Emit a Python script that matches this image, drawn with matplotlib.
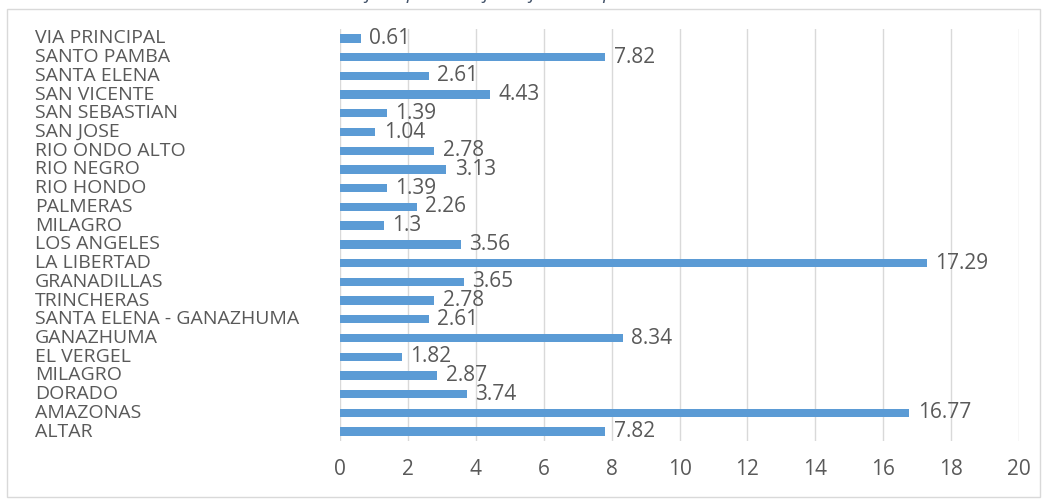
import matplotlib
matplotlib.use("Agg")
import matplotlib.pyplot as plt
import matplotlib.transforms as mtransforms
from matplotlib.patches import Rectangle
import numpy as np

# Communities listed top to bottom, as in the chart
communities = [
    "VIA PRINCIPAL", "SANTO PAMBA", "SANTA ELENA", "SAN VICENTE", "SAN SEBASTIAN",
    "SAN JOSE", "RIO ONDO ALTO", "RIO NEGRO", "RIO HONDO", "PALMERAS", "MILAGRO",
    "LOS ANGELES", "LA LIBERTAD", "GRANADILLAS", "TRINCHERAS",
    "SANTA ELENA - GANAZHUMA", "GANAZHUMA", "EL VERGEL", "MILAGRO", "DORADO",
    "AMAZONAS", "ALTAR",
]
percentages = [
    0.61, 7.82, 2.61, 4.43, 1.39, 1.04, 2.78, 3.13, 1.39, 2.26, 1.3,
    3.56, 17.29, 3.65, 2.78, 2.61, 8.34, 1.82, 2.87, 3.74, 16.77, 7.82,
]
value_labels = ["0.61", "7.82", "2.61", "4.43", "1.39", "1.04", "2.78", "3.13", "1.39",
                "2.26", "1.3", "3.56", "17.29", "3.65", "2.78", "2.61", "8.34", "1.82",
                "2.87", "3.74", "16.77", "7.82"]
x_ticks = [0, 2, 4, 6, 8, 10, 12, 14, 16, 18, 20]
title = "Gráfico: porcentaje de familias por comunidad"

plt.rcParams["font.family"] = ["Open Sans", "DejaVu Sans"]
text_color = "#595959"
bar_color = "#5B9BD5"

W, H = 1046, 499
fig = plt.figure(figsize=(W / 100, H / 100), dpi=100)
ax = fig.add_axes([340 / W, 1 - 441 / H, (1019 - 340) / W, (441 - 29) / H])

ypos = np.arange(len(communities))[::-1]
ax.barh(ypos, percentages, height=0.45, color=bar_color, zorder=3)
for y, v, lab in zip(ypos, percentages, value_labels):
    ax.annotate(lab, (v, y), xytext=(6, 0), textcoords="offset points",
                va="center", ha="left", fontsize=15, color=text_color)

ax.set_xlim(0, 20)
ax.set_ylim(-0.5, len(communities) - 0.5)
ax.set_xticks(x_ticks)
ax.set_xticklabels([str(t) for t in x_ticks], fontsize=15, color=text_color)
ax.tick_params(axis="x", length=0, pad=13)
ax.set_yticks([])
ax.xaxis.grid(True, color="#D9D9D9", linewidth=1, zorder=0)
for s in ax.spines.values():
    s.set_visible(False)

# category labels left aligned at the chart's left edge
trans = mtransforms.blended_transform_factory(fig.transFigure, ax.transData)
for y, name in zip(ypos, communities):
    ax.text(35 / W, y, name, transform=trans, ha="left", va="center",
            fontsize=14, color=text_color, clip_on=False)

# chart frame
fig.patches.append(Rectangle((7 / W, 1 - 497 / H), (1040 - 7) / W, (497 - 9) / H,
                             transform=fig.transFigure, fill=False,
                             edgecolor="#D9D9D9", linewidth=1))

# title, mostly cut off at the top of the picture
fig.text(535 / W, 1 + 1 / H, title, ha="center", va="baseline", fontsize=14,
         style="italic", color="#44546A")

fig.savefig("out.png", dpi=100)
